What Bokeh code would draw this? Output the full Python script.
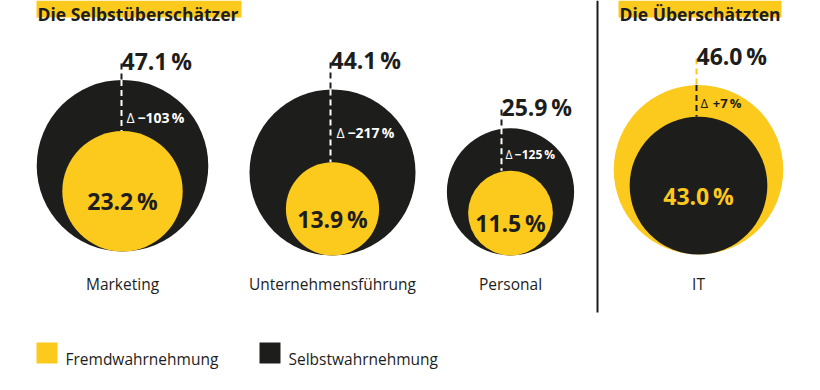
import math
from bokeh.plotting import figure
from bokeh.models import Range1d
from bokeh.embed import file_html
from bokeh.resources import INLINE
from bokeh.core.properties import value

# ---------------- data ----------------
categories = ["Marketing", "Unternehmensführung", "Personal", "IT"]
fremd = [23.2, 13.9, 11.5, 46.0]      # Fremdwahrnehmung (%)
selbst = [47.1, 44.1, 25.9, 43.0]     # Selbstwahrnehmung (%)
delta = ["−103", "−217", "−125", "+7"]  # Abweichung (%)
group_titles = ["Die Selbstüberschätzer", "Die Überschätzten"]
legend_labels = ["Fremdwahrnehmung", "Selbstwahrnehmung"]

# ---------------- layout / style ----------------
YELLOW = "#FCC91D"
BLACK = "#1D1D1B"
FONT = "Open Sans"
K = 12.5                       # px per sqrt(percent)
ring_scale = [1, 1, 1, 0.84]   # visual exaggeration of inner circle
cx = [122, 332, 510, 698]
base = [259, 263, 263, 262]
label_x = [121, 330, 501, 696]
label_y = [68, 67, 114, 63]
delta_pos = [(126, 125), (336, 140), (505, 162), (700, 110)]
delta_size = [14, 14, 12, 13]

W, H = 804, 374
p = figure(width=W, height=H, output_backend="svg", toolbar_location=None,
           x_range=Range1d(0, W), y_range=Range1d(H + 8, 8),
           min_border=0, min_border_left=0, min_border_right=0,
           min_border_top=0, min_border_bottom=0)
p.axis.visible = False
p.grid.visible = False
p.outline_line_color = None
p.background_fill_color = "white"
p.border_fill_color = "white"

outer_v, inner_v, outer_c, inner_c, outer_r, inner_r = [], [], [], [], [], []
for i in range(len(categories)):
    if selbst[i] >= fremd[i]:
        ov, iv, oc, ic = selbst[i], fremd[i], BLACK, YELLOW
    else:
        ov, iv, oc, ic = fremd[i], selbst[i], YELLOW, BLACK
    outer_v.append(ov); inner_v.append(iv)
    outer_c.append(oc); inner_c.append(ic)
    outer_r.append(K * math.sqrt(ov))
    inner_r.append(K * math.sqrt(iv) * ring_scale[i])

outer_y = [b - r for b, r in zip(base, outer_r)]
inner_y = [b - r for b, r in zip(base, inner_r)]

p.circle(x=cx, y=outer_y, radius=outer_r, fill_color=outer_c, line_color=None)
p.circle(x=cx, y=inner_y, radius=inner_r, fill_color=inner_c, line_color=None)

# dashed leader lines
for i in range(len(categories)):
    top_outer = base[i] - 2 * outer_r[i]
    top_inner = base[i] - 2 * inner_r[i]
    inside_col = "white" if outer_c[i] == BLACK else BLACK
    p.segment(x0=[label_x[i]], y0=[label_y[i] + 3], x1=[label_x[i]], y1=[top_outer],
              line_color=outer_c[i], line_width=2, line_dash="6 4")
    p.segment(x0=[label_x[i]], y0=[top_outer], x1=[label_x[i]], y1=[top_inner],
              line_color=inside_col, line_width=2, line_dash="6 4")

def fmt(v):
    return f"{v:.1f}\u2009%"

# outer value labels
p.text(x=label_x, y=label_y, text=[fmt(v) for v in outer_v],
       text_font=value(FONT), text_font_style="bold", text_font_size="23px",
       text_color=BLACK, text_align="left", text_baseline="alphabetic")

# inner value labels
p.text(x=cx, y=[y + 10 for y in inner_y], text=[fmt(v) for v in inner_v],
       text_font=value(FONT), text_font_style="bold", text_font_size="23px",
       text_color=[BLACK if c == YELLOW else YELLOW for c in inner_c],
       text_align="center", text_baseline="alphabetic")

# delta labels
for i in range(len(categories)):
    dx, dy = delta_pos[i]
    col = "white" if outer_c[i] == BLACK else BLACK
    fs = delta_size[i]
    p.text(x=[dx], y=[dy], text=["Δ"], text_font=value(FONT),
           text_font_size=f"{fs}px", text_color=col,
           text_align="left", text_baseline="alphabetic")
    gap = fs * 0.78 if delta[i].startswith("−") else fs * 0.95
    p.text(x=[dx + gap], y=[dy], text=[f"{delta[i]}\u2009%"], text_font=value(FONT),
           text_font_style="bold", text_font_size=f"{fs}px", text_color=col,
           text_align="left", text_baseline="alphabetic")

# category labels
p.text(x=cx, y=[291] * len(cx), text=categories, text_font=value(FONT),
       text_font_size="15.5px", text_color=BLACK, text_align="center",
       text_baseline="alphabetic")

# group titles with yellow boxes
p.quad(left=[36, 618], right=[241, 781], top=[8, 8], bottom=[25, 25],
       fill_color=YELLOW, line_color=None)
p.text(x=[37, 619], y=[21, 21], text=group_titles, text_font=value(FONT),
       text_font_style="bold", text_font_size="17.5px", text_color=BLACK,
       text_align="left", text_baseline="alphabetic")

# divider
p.segment(x0=[597], y0=[8], x1=[597], y1=[320], line_color=BLACK, line_width=2)

# legend
p.quad(left=[36, 259], right=[57, 280], top=[350, 350], bottom=[371, 371],
       fill_color=[YELLOW, BLACK], line_color=None)
p.text(x=[65, 288], y=[366, 366], text=legend_labels, text_font=value(FONT),
       text_font_size="15.5px", text_color=BLACK, text_align="left",
       text_baseline="alphabetic")

open("out.html", "w").write(file_html(p, INLINE))
